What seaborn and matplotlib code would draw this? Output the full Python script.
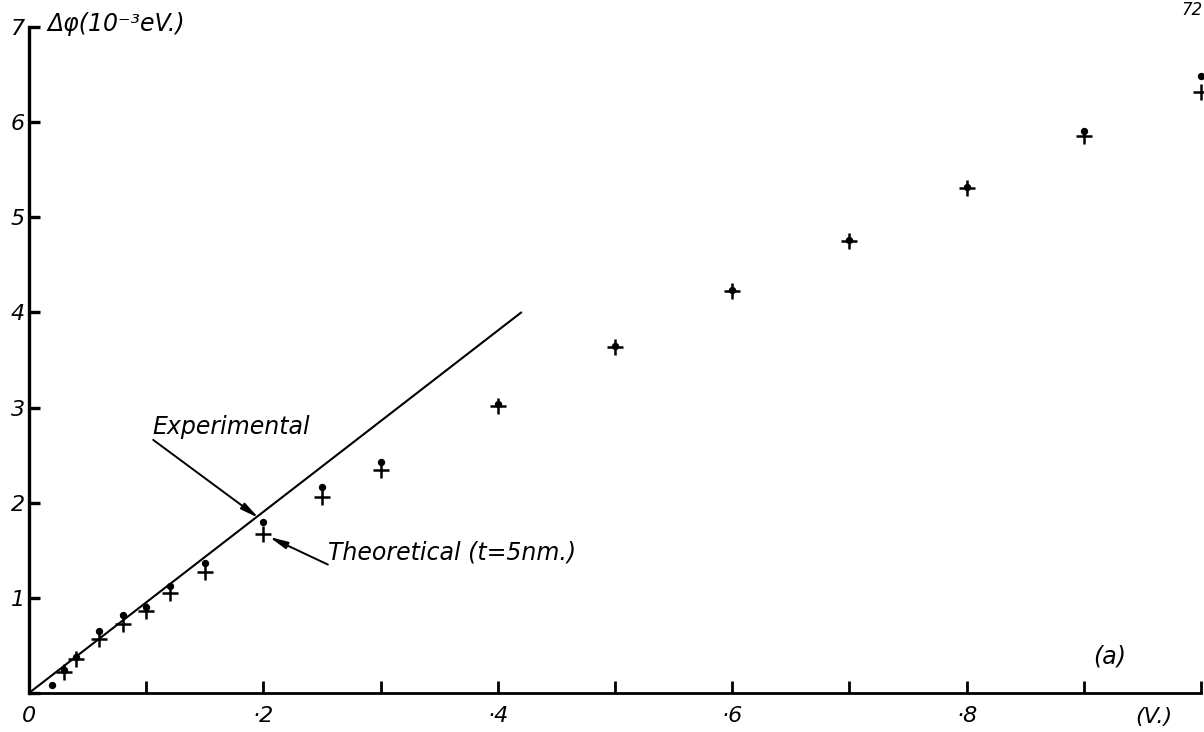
import matplotlib
matplotlib.use("Agg")
import matplotlib.pyplot as plt
import seaborn as sns
import numpy as np

# Bias voltage (V) and shift of the work function (10^-3 eV)
x_exp = [0.02, 0.03, 0.04, 0.06, 0.08, 0.10, 0.12, 0.15, 0.20, 0.25, 0.30,
         0.40, 0.50, 0.60, 0.70, 0.80, 0.90, 1.00]
y_exp = [0.08, 0.24, 0.38, 0.65, 0.82, 0.90, 1.12, 1.37, 1.80, 2.17, 2.43,
         3.04, 3.65, 4.24, 4.76, 5.32, 5.91, 6.48]

x_theo = [0.03, 0.04, 0.06, 0.08, 0.10, 0.12, 0.15, 0.20, 0.25, 0.30,
          0.40, 0.50, 0.60, 0.70, 0.80, 0.90, 1.00]
y_theo = [0.22, 0.36, 0.57, 0.73, 0.86, 1.05, 1.27, 1.67, 2.06, 2.34,
          3.02, 3.64, 4.23, 4.75, 5.31, 5.85, 6.32]

# Initial linear slope
line_x = [0.0, 0.42]
line_y = [0.0, 4.0]

x_ticks = [0.0, 0.1, 0.2, 0.3, 0.4, 0.5, 0.6, 0.7, 0.8, 0.9, 1.0]
x_tick_labels = ["0", "", "·2", "", "·4", "", "·6", "", "·8", "", ""]
y_ticks = [0, 1, 2, 3, 4, 5, 6, 7]
y_tick_labels = ["", "1", "2", "3", "4", "5", "6", "7"]

sns.set_theme(style="white")
plt.rcParams["font.family"] = ["DejaVu Sans"]
plt.rcParams["font.style"] = "italic"
plt.rcParams["text.color"] = "black"
plt.rcParams["axes.labelcolor"] = "black"
plt.rcParams["xtick.color"] = "black"
plt.rcParams["ytick.color"] = "black"

W, H = 1204, 732
fig = plt.figure(figsize=(W / 100, H / 100), dpi=100)
fig.patch.set_facecolor("white")
ax = fig.add_axes([29 / W, (H - 693) / H, 1172 / W, (693 - 27) / H])
ax.set_facecolor("white")

sns.lineplot(x=line_x, y=line_y, ax=ax, color="black", linewidth=1.5,
             estimator=None, sort=False)
sns.scatterplot(x=x_theo, y=y_theo, ax=ax, marker="+", s=130, color="black",
                linewidth=1.8, clip_on=False, zorder=3)
sns.scatterplot(x=x_exp, y=y_exp, ax=ax, marker="o", s=28, color="black",
                edgecolor="black", linewidth=0, clip_on=False, zorder=4)

ax.set_xlim(0, 1.0)
ax.set_ylim(0, 7)

for side in ["top", "right"]:
    ax.spines[side].set_visible(False)
ax.spines["left"].set_linewidth(2.4)
ax.spines["bottom"].set_linewidth(2.0)
ax.spines["left"].set_color("black")
ax.spines["bottom"].set_color("black")

ax.set_xticks(x_ticks)
ax.set_xticklabels(x_tick_labels)
ax.set_yticks(y_ticks)
ax.set_yticklabels(y_tick_labels)
ax.tick_params(axis="x", direction="in", length=9, width=2, pad=9,
               labelsize=16, colors="black", bottom=True)
ax.tick_params(axis="y", direction="in", length=8, width=2.4, pad=3,
               labelsize=16, colors="black", left=True)
for lbl in ax.get_xticklabels() + ax.get_yticklabels():
    lbl.set_fontstyle("italic")
ax.set_xlabel("")
ax.set_ylabel("")

# Axis titles
ax.text(0.96, -0.021, "(V.)", transform=ax.get_xaxis_transform(),
        ha="center", va="top", fontsize=16, style="italic", color="black")
fig.text(47 / W, 1 - 24 / H, "Δφ(10⁻³eV.)", ha="left", va="center",
         fontsize=17, style="italic", color="black")

# Annotations
ax.text(0.105, 2.80, "Experimental", ha="left", va="center", fontsize=17,
        style="italic", color="black")
ax.annotate("", xy=(0.196, 1.84), xytext=(0.106, 2.66),
            arrowprops=dict(arrowstyle="-|>,head_length=0.9,head_width=0.18",
                            color="black", lw=1.4, shrinkA=0, shrinkB=0))
ax.text(0.255, 1.48, "Theoretical (t=5nm.)", ha="left", va="center",
        fontsize=17, style="italic", color="black")
ax.annotate("", xy=(0.205, 1.64), xytext=(0.255, 1.35),
            arrowprops=dict(arrowstyle="-|>,head_length=0.9,head_width=0.18",
                            color="black", lw=1.4, shrinkA=0, shrinkB=0))

ax.text(0.922, 0.38, "(a)", ha="center", va="center", fontsize=17,
        style="italic", color="black")

# Page number in the corner
fig.text(1 - 1 / W, 1 - 1 / H, "72", ha="right", va="top", fontsize=12,
         style="italic", color="black")

fig.savefig("out.png", dpi=100, facecolor="white")
